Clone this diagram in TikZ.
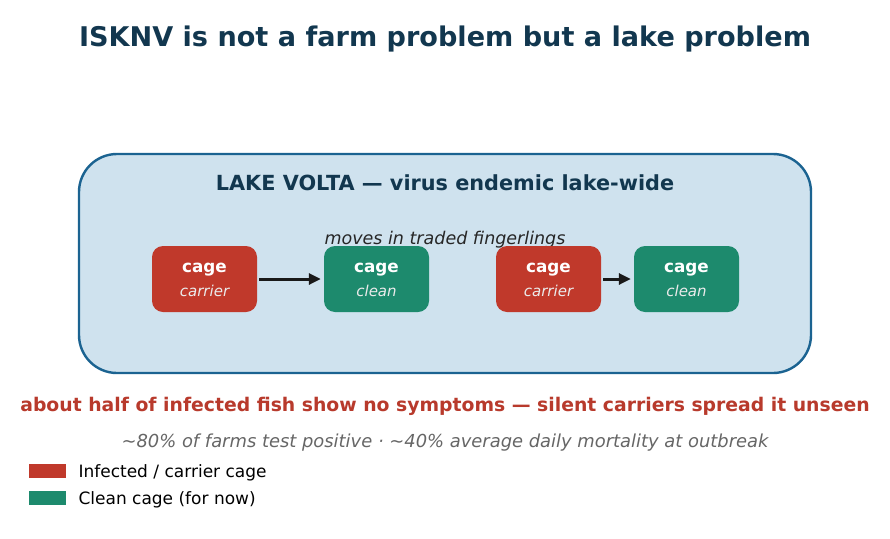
\documentclass[tikz,border=0pt]{standalone}
\usepackage{fontspec}
\setmainfont{DejaVu Sans}
\usetikzlibrary{arrows.meta}
\definecolor{navy}{HTML}{12374F}
\definecolor{lakeborder}{HTML}{1B6391}
\definecolor{lakefill}{HTML}{CFE2EE}
\definecolor{cagered}{HTML}{C0392B}
\definecolor{cagegreen}{HTML}{1D8A6D}
\definecolor{alertred}{HTML}{B83A2C}
\definecolor{greytext}{HTML}{666666}
\tikzset{
  cagebox/.style={rounded corners=11pt, minimum width=105pt, minimum height=66pt, inner sep=0pt},
  flow/.style={-{Triangle[length=12pt,width=11pt]}, line width=3pt, draw=black!90},
  legendbox/.style={minimum width=37pt, minimum height=14pt, inner sep=0pt}
}
\begin{document}
\begin{tikzpicture}[x=1pt,y=-1pt]
\useasboundingbox[fill=white] (0,0) rectangle (890,538);
\node[font=\bfseries\fontsize{27.1}{32}\selectfont, text=navy] (title) at (445,39) {ISKNV is not a farm problem but a lake problem};
\draw[lakeborder, fill=lakefill, line width=2.4pt, rounded corners=38pt] (79,154) rectangle (811,373);
\node[font=\bfseries\fontsize{20.8}{24}\selectfont, text=navy] (laketitle) at (445,183) {LAKE VOLTA — virus endemic lake-wide};
\node[font=\itshape\fontsize{17.5}{21}\selectfont, text=black!85] (moves) at (445,240) {moves in traded fingerlings};
\node[cagebox, fill=cagered] (c1) at (204.5,279) {};
\node[cagebox, fill=cagegreen] (c2) at (376.5,279) {};
\node[cagebox, fill=cagered] (c3) at (548.5,279) {};
\node[cagebox, fill=cagegreen] (c4) at (686.5,279) {};
\foreach \n/\s in {c1/carrier,c2/clean,c3/carrier,c4/clean}{
  \node[font=\bfseries\fontsize{16.8}{20}\selectfont, text=white] at ([yshift=9pt]\n.center) {cage};
  \node[font=\itshape\fontsize{15}{18}\selectfont, text=white!92!black] at ([yshift=-12pt]\n.center) {\s};
}
\draw[flow] ([xshift=2pt]c1.east) -- ([xshift=-3pt]c2.west);
\draw[flow] ([xshift=2pt]c3.east) -- ([xshift=-3pt]c4.west);
\node[font=\bfseries\fontsize{18.8}{22}\selectfont, text=alertred] (alert) at (445,406.5) {about half of infected fish show no symptoms — silent carriers spread it unseen};
\node[font=\itshape\fontsize{17.9}{21}\selectfont, text=greytext] (stats) at (445,443) {\char"223C 80\% of farms test positive · \char"223C 40\% average daily mortality at outbreak};
\node[legendbox, fill=cagered] (l1) at (47.5,471) {};
\node[legendbox, fill=cagegreen] (l2) at (47.5,498) {};
\node[anchor=west, font=\fontsize{17}{20}\selectfont] (t1) at (75,472.5) {Infected / carrier cage};
\node[anchor=west, font=\fontsize{17}{20}\selectfont] (t2) at (75,499.5) {Clean cage (for now)};
\end{tikzpicture}
\end{document}
